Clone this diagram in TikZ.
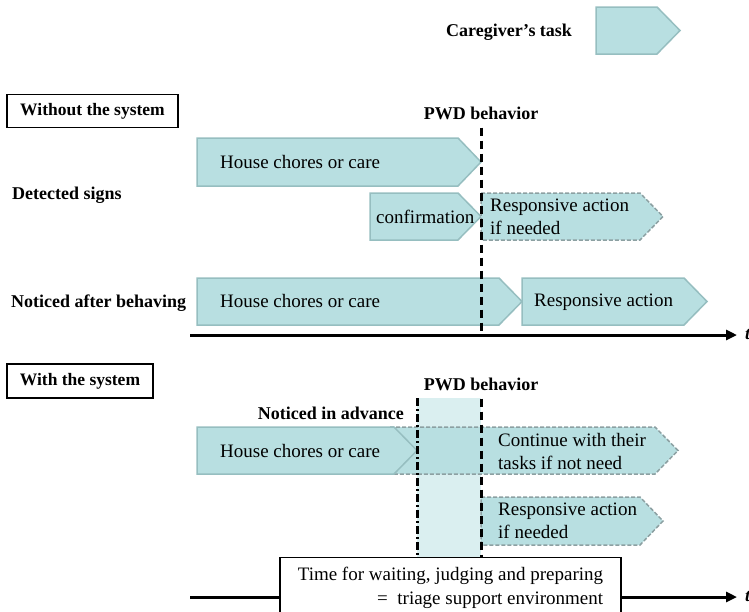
\documentclass[tikz,border=0pt]{standalone}
\usepackage{fontspec}
\setmainfont{Liberation Serif}
\usetikzlibrary{arrows.meta}

\definecolor{taskcyan}{RGB}{184,223,225}
\definecolor{taskedge}{RGB}{150,190,192}
\definecolor{bandcyan}{RGB}{218,239,240}
\definecolor{dashgrey}{RGB}{140,160,162}

\tikzset{
  task/.style={fill=taskcyan, draw=taskedge, line width=1.5pt},
  maybetask/.style={fill=taskcyan, draw=dashgrey, dash pattern=on 4pt off 2pt, line width=1.5pt},
  tasktext/.style={font=\fontsize{19}{23}\selectfont, align=left, inner sep=0pt, anchor=west},
  rowlabel/.style={font=\fontsize{18}{20}\selectfont\bfseries, inner sep=0pt, anchor=west},
  pwdlabel/.style={font=\fontsize{18}{20}\selectfont\bfseries, inner sep=2pt},
  casebox/.style={draw, line width=1.5pt, fill=white, font=\fontsize{17.5}{20}\selectfont\bfseries,
    minimum height=33pt, inner sep=0pt},
  timebox/.style={draw, line width=1.2pt, fill=white, font=\fontsize{19}{24}\selectfont,
    align=right, minimum width=341pt, minimum height=60pt, anchor=north},
  timeline/.style={line width=3pt, -{Triangle[length=11pt,width=10pt]}},
  pwdline/.style={line width=3pt, dash pattern=on 8pt off 5pt},
  noticeline/.style={line width=3pt, dash pattern=on 8pt off 3pt on 2pt off 3pt},
}

% pentagon: style, left x, tip x, top y, bottom y
\newcommand{\taskarrow}[5]{%
  \draw[#1] (#2,#4) -- (#3-23,#4) -- (#3,{(#4+#5)/2}) -- (#3-23,#5) -- (#2,#5) -- cycle;}

\begin{document}
\begin{tikzpicture}[x=1pt,y=-1pt]
    \useasboundingbox (0,0) rectangle (749,611);

    % Legend
    \taskarrow{task}{596}{680}{7}{54}
    \node[rowlabel] (legend) at (446,32) {Caregiver's task};

    % Without the system
    \node[casebox, minimum width=171pt] (without) at (92.5,111) {Without the system};
    \node[pwdlabel] (pwdA) at (481,113) {PWD behavior};

    \taskarrow{task}{197}{481}{138}{186}
    \node[tasktext] (choresA) at (220,162) {House chores or care};

    \node[rowlabel] (signs) at (12,195) {Detected signs};
    \taskarrow{task}{370}{481}{193}{240}
    \node[tasktext] (confirm) at (376,217) {confirmation};
    \taskarrow{maybetask}{481}{663}{193}{240}
    \node[tasktext] (respA) at (490,217) {Responsive action\\if needed};

    \node[rowlabel] (after) at (11,303) {Noticed after behaving};
    \taskarrow{task}{197}{522}{278}{325}
    \node[tasktext] (choresB) at (220,301) {House chores or care};
    \taskarrow{task}{522}{707}{278}{325}
    \node[tasktext] (respB) at (534,302) {Responsive action};

    % Axis
    \coordinate (startA) at (190,335);
    \coordinate (endA) at (737,335);
    \draw[timeline] (startA) -- (endA);
    \node[rowlabel] (tA) at (745,335) {\textit{t}};
    \draw[pwdline] ([yshift=-6pt]pwdA.south) -- (pwdA.south |- startA);

    % With the system
    \node[casebox, minimum width=146pt, minimum height=34pt] (with) at (80,381) {With the system};
    \node[pwdlabel] (pwdB) at (481,384) {PWD behavior};
    \coordinate (notice) at (417,398);
    \node[rowlabel, anchor=east] (advance) at (404,413) {Noticed in advance};

    % Axis
    \coordinate (startB) at (190,597);
    \coordinate (endB) at (737,597);
    \draw[timeline] (startB) -- (endB);
    \node[rowlabel] (tB) at (745,597) {\textit{t}};

    \node[timebox] (triage) at (450.5,557)
        {Time for waiting, judging and preparing\\= \ triage support environment};

    \fill[bandcyan] (notice) rectangle (481,557);

    \taskarrow{maybetask}{390}{678}{427}{474}
    \taskarrow{task}{197}{417}{427}{474}
    \node[tasktext] (choresC) at (220,451) {House chores or care};
    \node[tasktext] (continue) at (498,451) {Continue with their\\tasks if not need};

    \taskarrow{maybetask}{481}{663}{497}{545}
    \node[tasktext] (respC) at (498,521) {Responsive action\\if needed};

    \draw[noticeline] (notice) -- (notice |- triage.north);
    \draw[pwdline] ([yshift=-6pt]pwdB.south) -- (pwdB.south |- triage.north);
\end{tikzpicture}
\end{document}
